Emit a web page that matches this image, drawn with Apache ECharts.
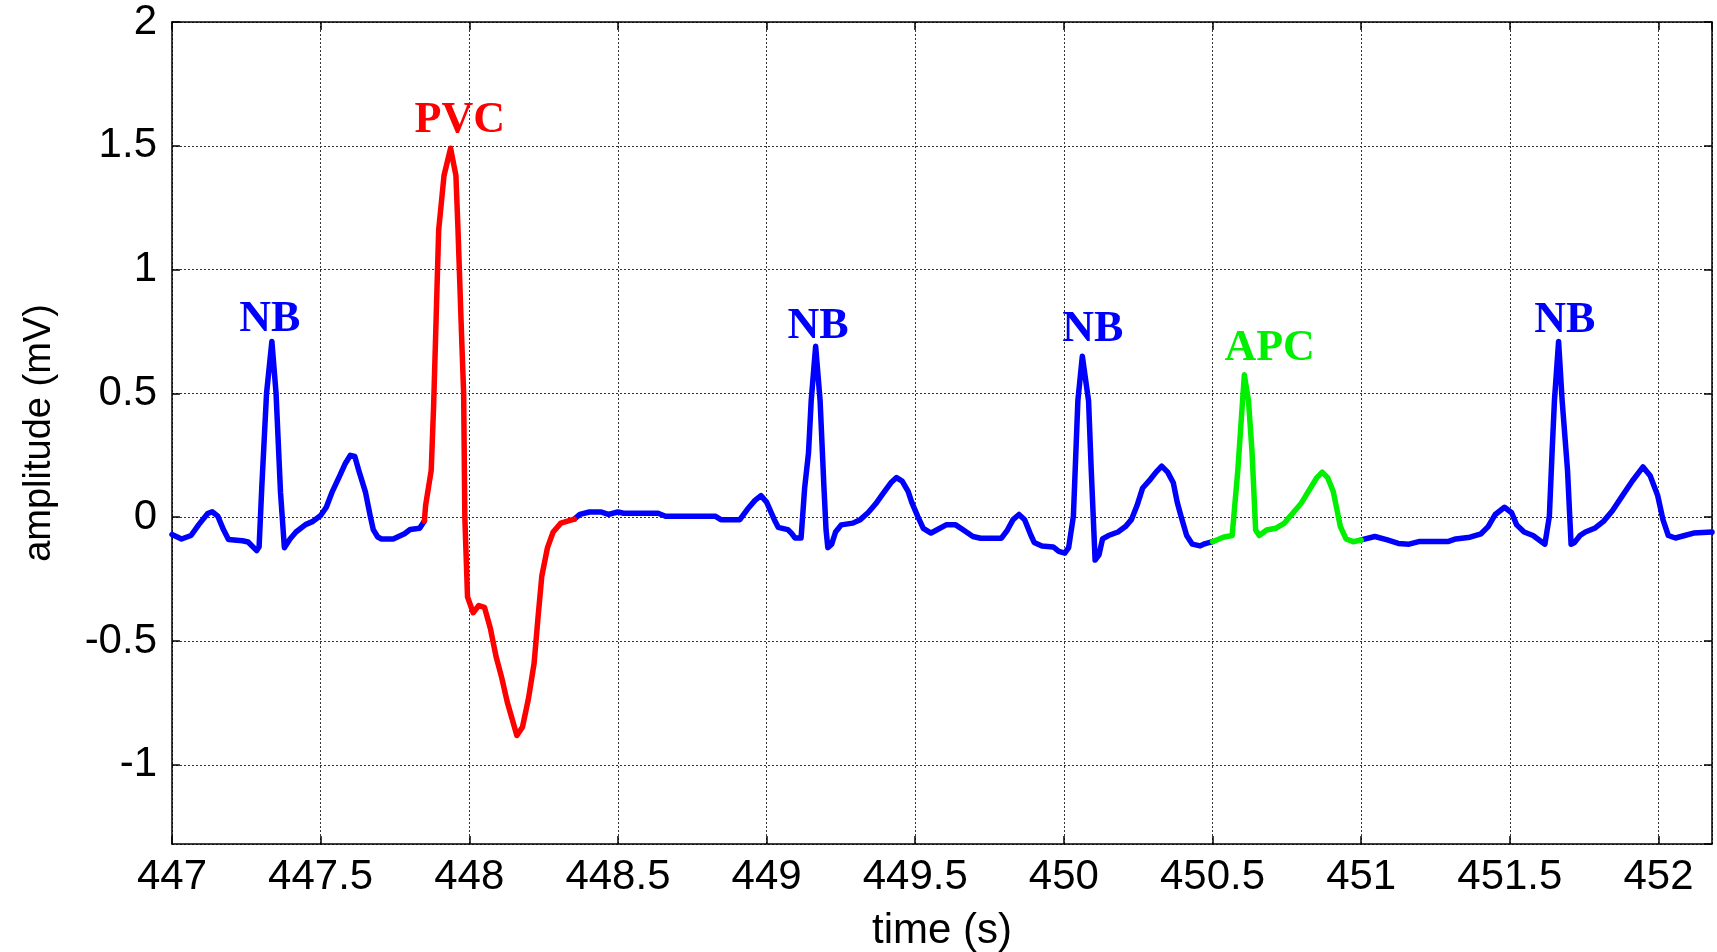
<!DOCTYPE html>
<html>
<head>
<meta charset="utf-8">
<title>ECG beats</title>
<script src="https://cdn.jsdelivr.net/npm/echarts@6/dist/echarts.min.js"></script>
<style>
  html, body { margin: 0; padding: 0; background: #fff; }
  #chart { width: 1717px; height: 952px; }
</style>
</head>
<body>
<div id="chart"></div>
<script>
// ECG trace: time (s) and amplitude (mV)
const timeSec = [
  447.000, 447.032, 447.064, 447.090, 447.120, 447.135, 447.154, 447.173, 447.190, 447.237,
  447.256, 447.285, 447.293, 447.302, 447.318, 447.336, 447.350, 447.365, 447.378, 447.397,
  447.417, 447.449, 447.474, 447.500, 447.519, 447.538, 447.564, 447.583, 447.600, 447.615,
  447.628, 447.651, 447.667, 447.677, 447.692, 447.705, 447.744, 447.782, 447.801, 447.833,
  447.849, 447.853, 447.872, 447.880, 447.897, 447.915, 447.937, 447.955, 447.962, 447.975,
  447.981, 447.985, 447.994, 448.013, 448.032, 448.051, 448.071, 448.090, 448.109, 448.128,
  448.160, 448.179, 448.199, 448.218, 448.231, 448.244, 448.263, 448.282, 448.308, 448.353,
  448.372, 448.404, 448.442, 448.468, 448.500, 448.519, 448.635, 448.660, 448.827, 448.846,
  448.910, 448.936, 448.961, 448.981, 449.000, 449.026, 449.039, 449.071, 449.083, 449.096,
  449.116, 449.128, 449.141, 449.150, 449.165, 449.180, 449.193, 449.200, 449.206, 449.219,
  449.232, 449.251, 449.290, 449.315, 449.341, 449.367, 449.392, 449.418, 449.437, 449.456,
  449.476, 449.488, 449.508, 449.527, 449.553, 449.572, 449.604, 449.636, 449.662, 449.694,
  449.720, 449.790, 449.810, 449.829, 449.849, 449.868, 449.887, 449.900, 449.926, 449.964,
  449.983, 450.003, 450.016, 450.032, 450.047, 450.062, 450.083, 450.092, 450.105, 450.118,
  450.130, 450.150, 450.182, 450.207, 450.227, 450.246, 450.265, 450.291, 450.310, 450.329,
  450.349, 450.368, 450.381, 450.394, 450.413, 450.432, 450.458, 450.470, 450.500, 450.536,
  450.566, 450.585, 450.597, 450.607, 450.621, 450.633, 450.645, 450.657, 450.682, 450.712,
  450.742, 450.766, 450.797, 450.833, 450.851, 450.869, 450.887, 450.906, 450.918, 450.930,
  450.949, 450.973, 451.000, 451.046, 451.088, 451.125, 451.161, 451.197, 451.294, 451.318,
  451.366, 451.403, 451.427, 451.451, 451.482, 451.506, 451.523, 451.548, 451.578, 451.602,
  451.618, 451.633, 451.642, 451.650, 451.664, 451.676, 451.694, 451.706, 451.718, 451.736,
  451.754, 451.785, 451.815, 451.845, 451.876, 451.912, 451.948, 451.972, 451.997, 452.015,
  452.033, 452.057, 452.088, 452.118, 452.180
];
const ampMv = [
  -0.070, -0.088, -0.074, -0.030, 0.015, 0.022, 0.004, -0.050, -0.090, -0.095,
  -0.100, -0.135, -0.120, 0.120, 0.500, 0.710, 0.500, 0.100, -0.123, -0.088,
  -0.060, -0.030, -0.017, 0.007, 0.040, 0.100, 0.167, 0.217, 0.250, 0.245,
  0.190, 0.100, 0.004, -0.050, -0.080, -0.088, -0.088, -0.067, -0.050, -0.045,
  -0.015, 0.047, 0.190, 0.450, 1.160, 1.380, 1.490, 1.380, 1.160, 0.700,
  0.500, 0.000, -0.322, -0.386, -0.357, -0.364, -0.450, -0.563, -0.648, -0.748,
  -0.882, -0.847, -0.733, -0.590, -0.407, -0.237, -0.123, -0.060, -0.024, -0.008,
  0.011, 0.021, 0.021, 0.011, 0.021, 0.016, 0.016, 0.004, 0.004, -0.010,
  -0.010, 0.033, 0.068, 0.087, 0.061, -0.010, -0.041, -0.050, -0.064, -0.084,
  -0.084, 0.118, 0.260, 0.470, 0.690, 0.470, 0.118, -0.052, -0.123, -0.109,
  -0.060, -0.031, -0.024, -0.010, 0.018, 0.054, 0.096, 0.139, 0.160, 0.146,
  0.104, 0.061, 0.004, -0.045, -0.064, -0.052, -0.031, -0.031, -0.052, -0.078,
  -0.085, -0.085, -0.052, -0.010, 0.011, -0.010, -0.067, -0.102, -0.116, -0.120,
  -0.138, -0.145, -0.123, 0.004, 0.470, 0.650, 0.470, 0.190, -0.173, -0.152,
  -0.088, -0.074, -0.060, -0.038, -0.010, 0.047, 0.118, 0.153, 0.182, 0.206,
  0.182, 0.139, 0.061, 0.004, -0.074, -0.109, -0.116, -0.109, -0.099, -0.081,
  -0.074, 0.189, 0.400, 0.575, 0.470, 0.260, -0.052, -0.074, -0.052, -0.045,
  -0.024, 0.011, 0.054, 0.125, 0.160, 0.182, 0.160, 0.104, 0.033, -0.038,
  -0.088, -0.099, -0.092, -0.078, -0.092, -0.106, -0.109, -0.098, -0.098, -0.088,
  -0.081, -0.067, -0.038, 0.011, 0.040, 0.018, -0.031, -0.060, -0.074, -0.095,
  -0.109, 0.004, 0.260, 0.470, 0.710, 0.470, 0.190, -0.109, -0.102, -0.074,
  -0.060, -0.045, -0.017, 0.026, 0.082, 0.146, 0.203, 0.167, 0.089, -0.010,
  -0.074, -0.084, -0.074, -0.064, -0.060
];

// abnormal beat windows (s)
const pvcRange = [447.849, 448.353];
const apcRange = [450.500, 451.000];

// beat annotations: type, label centre time, label centre amplitude
const beatTypes = ['NB', 'PVC', 'NB', 'NB', 'APC', 'NB'];
const beatLabelTime = [447.329, 447.968, 449.173, 450.097, 450.692, 451.685];
const beatLabelMv = [0.797, 1.602, 0.768, 0.759, 0.682, 0.792];

const xMin = 447, xMax = 452.18;
const yMin = -1.32, yMax = 2;

const BLUE = '#0000ff', RED = '#ff0000', GREEN = '#00f000';
const typeColor = { NB: BLUE, PVC: RED, APC: GREEN };

const inRange = (t, r) => t >= r[0] && t <= r[1];
const redData = [], greenData = [], blueData = [];
timeSec.forEach((t, i) => {
  const p = [t, ampMv[i]];
  if (inRange(t, pvcRange)) redData.push(p);
  if (inRange(t, apcRange)) greenData.push(p);
  const strictRed = t > pvcRange[0] && t < pvcRange[1];
  const strictGreen = t > apcRange[0] && t < apcRange[1];
  if (strictRed || strictGreen) {
    if (blueData.length && blueData[blueData.length - 1] !== null) blueData.push(null);
  } else {
    blueData.push(p);
  }
});

const halfStep = v => Math.abs(v * 2 - Math.round(v * 2)) < 1e-6;

const chart = echarts.init(document.getElementById('chart'), null, { renderer: 'canvas' });

const lineSeries = (data, color) => ({
  type: 'line',
  data: data,
  showSymbol: false,
  symbol: 'none',
  connectNulls: false,
  smooth: false,
  lineStyle: { color: color, width: 5.5, join: 'round', cap: 'round' },
  z: 3
});

const axisLine = { show: true, onZero: false, lineStyle: { color: '#000', width: 1.5 } };
const axisTick = { show: true, inside: true, length: 8, lineStyle: { color: '#000', width: 1.5 } };
const gridLine = { show: true, lineStyle: { color: '#333', width: 1, type: [2, 2] } };
const tickFont = { fontFamily: 'Liberation Sans', fontSize: 42, color: '#000' };

const option = {
  animation: false,
  backgroundColor: '#ffffff',
  grid: { left: 172, right: 5, top: 22, bottom: 108, containLabel: false, outerBoundsMode: 'none' },
  xAxis: [
    {
      type: 'value',
      min: xMin,
      max: xMax,
      splitNumber: 10,
      name: 'time (s)',
      nameLocation: 'middle',
      nameGap: 66,
      nameTextStyle: { fontFamily: 'Liberation Sans', fontSize: 42, color: '#000' },
      axisLine: axisLine,
      axisTick: axisTick,
      axisLabel: Object.assign({}, tickFont, {
        margin: 12,
        showMaxLabel: false,
        formatter: v => (halfStep(v) ? String(v) : '')
      }),
      splitLine: gridLine
    },
    {
      type: 'value',
      position: 'top',
      min: xMin,
      max: xMax,
      splitNumber: 10,
      axisLine: axisLine,
      axisTick: axisTick,
      axisLabel: { show: false },
      splitLine: { show: false }
    }
  ],
  yAxis: [
    {
      type: 'value',
      min: yMin,
      max: yMax,
      splitNumber: 7,
      name: 'amplitude (mV)',
      nameLocation: 'middle',
      nameGap: 113,
      nameTextStyle: { fontFamily: 'Liberation Sans', fontSize: 38, color: '#000' },
      axisLine: axisLine,
      axisTick: axisTick,
      axisLabel: Object.assign({}, tickFont, {
        margin: 15,
        showMinLabel: false,
        formatter: v => (halfStep(v) ? String(v) : '')
      }),
      splitLine: gridLine
    },
    {
      type: 'value',
      position: 'right',
      min: yMin,
      max: yMax,
      splitNumber: 7,
      axisLine: axisLine,
      axisTick: axisTick,
      axisLabel: { show: false },
      splitLine: { show: false }
    }
  ],
  series: [
    lineSeries(blueData, BLUE),
    lineSeries(redData, RED),
    lineSeries(greenData, GREEN),
    {
      type: 'scatter',
      symbolSize: 0,
      silent: true,
      z: 4,
      itemStyle: { opacity: 1 },
      data: beatTypes.map((type, i) => ({
        name: type,
        value: [beatLabelTime[i], beatLabelMv[i]],
        label: { color: typeColor[type] }
      })),
      label: {
        show: true,
        position: 'inside',
        formatter: p => p.name,
        fontFamily: 'Liberation Serif',
        fontWeight: 'bold',
        fontSize: 44,
        opacity: 1,
        textBorderWidth: 0
      }
    }
  ]
};

chart.setOption(option);
</script>
</body>
</html>
